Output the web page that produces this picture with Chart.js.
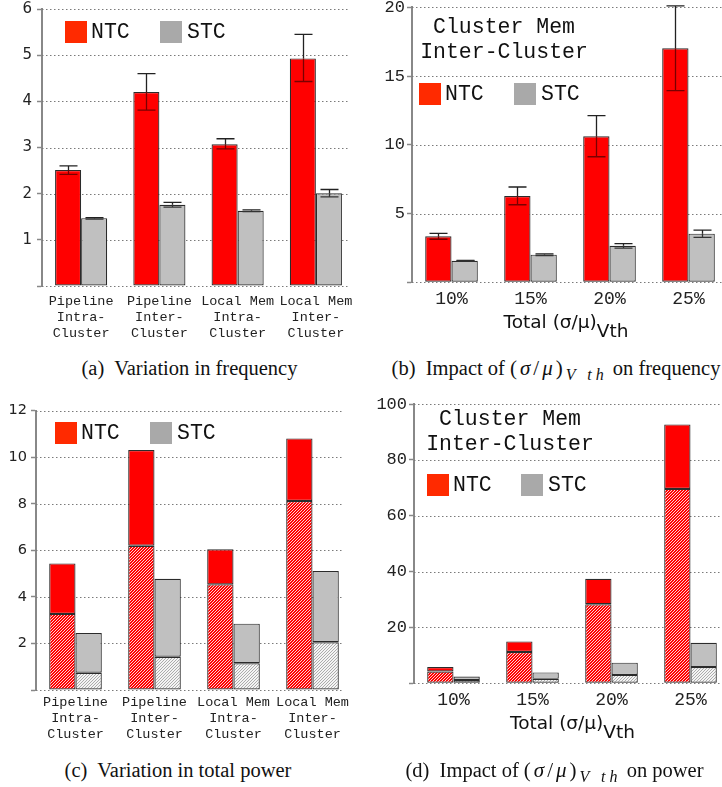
<!DOCTYPE html>
<html>
<head>
<meta charset="utf-8">
<script src="https://cdn.jsdelivr.net/npm/chart.js@4.4.1/dist/chart.umd.min.js"></script>
<style>
  html, body { margin: 0; padding: 0; width: 722px; height: 787px; overflow: hidden; background: #fff; }
  canvas { position: absolute; }
  .sq { position: absolute; width: 22px; height: 22px; }
  .lt { position: absolute; font-family: "Liberation Mono", "Courier New", monospace; font-size: 21.5px; line-height: 22px; color: #111; white-space: nowrap; }
  .ttl { position: absolute; width: 220px; text-align: center; font-family: "Liberation Mono", "Courier New", monospace; font-size: 21.5px; line-height: 25.6px; color: #111; white-space: nowrap; }
  .axt { position: absolute; transform: translateX(-50%); font-family: "DejaVu Sans", sans-serif; font-size: 18.5px; line-height: 20px; color: #111; white-space: nowrap; }
  .axt sub { font-size: 18.5px; vertical-align: -9px; line-height: 0; }
  .cap { position: absolute; transform: translateX(-50%); font-family: "Liberation Serif", "Times New Roman", serif; font-size: 20.5px; line-height: 24px; color: #111; white-space: nowrap; }
  .cap .m { letter-spacing: 3px; font-size: 21px; }
  .cap sub { font-size: 16px; letter-spacing: 4px; vertical-align: -5px; line-height: 0; }
</style>
</head>
<body>
<canvas id="freqDesign" width="361" height="350" style="left:0px;top:-5px"></canvas>
<canvas id="freqSigma" width="371" height="350" style="left:361px;top:-5px"></canvas>
<canvas id="powerDesign" width="361" height="355" style="left:0px;top:395px"></canvas>
<canvas id="powerSigma" width="371" height="360" style="left:361px;top:390px"></canvas>

<!-- legends -->
<div class="sq" style="left:65px;top:21px;background:#ff2a00"></div><div class="lt" style="left:91px;top:21px">NTC</div>
<div class="sq" style="left:160px;top:21px;background:#a9a9a9"></div><div class="lt" style="left:187px;top:21px">STC</div>

<div class="ttl" style="left:394px;top:14.9px">Cluster Mem<br>Inter-Cluster</div>
<div class="sq" style="left:419px;top:83px;background:#ff2a00"></div><div class="lt" style="left:445px;top:83px">NTC</div>
<div class="sq" style="left:514px;top:83px;background:#a9a9a9"></div><div class="lt" style="left:541px;top:83px">STC</div>

<div class="sq" style="left:55px;top:422px;background:#ff2a00"></div><div class="lt" style="left:81px;top:422px">NTC</div>
<div class="sq" style="left:150px;top:422px;background:#a9a9a9"></div><div class="lt" style="left:177px;top:422px">STC</div>

<div class="ttl" style="left:400px;top:406.5px">Cluster Mem<br>Inter-Cluster</div>
<div class="sq" style="left:427px;top:474px;background:#ff2a00"></div><div class="lt" style="left:453px;top:474px">NTC</div>
<div class="sq" style="left:521px;top:474px;background:#a9a9a9"></div><div class="lt" style="left:548px;top:474px">STC</div>

<!-- axis titles -->
<div class="axt" style="left:566px;top:311.7px">Total (σ/μ)<sub>Vth</sub></div>
<div class="axt" style="left:572.5px;top:713.3px">Total (σ/μ)<sub>Vth</sub></div>

<!-- captions -->
<div class="cap" style="left:189.5px;top:356px">(a)&nbsp; Variation in frequency</div>
<div class="cap" style="left:556px;top:356px">(b)&nbsp; Impact of <span class="m">(<i>σ</i>/<i>μ</i>)</span><sub><i>V th</i></sub> on frequency</div>
<div class="cap" style="left:178px;top:758px">(c)&nbsp; Variation in total power</div>
<div class="cap" style="left:554.5px;top:758px">(d)&nbsp; Impact of <span class="m">(<i>σ</i>/<i>μ</i>)</span><sub><i>V th</i></sub> on power</div>

<script>
// ---- categories ----
const designLabels = [
  ['Pipeline', 'Intra-', 'Cluster'],
  ['Pipeline', 'Inter-', 'Cluster'],
  ['Local Mem', 'Intra-', 'Cluster'],
  ['Local Mem', 'Inter-', 'Cluster']
];
const sigmaLabels = ['10%', '15%', '20%', '25%'];

// ---- frequency variation per design (mean, error range) ----
const freqNtc     = [2.51, 4.20, 3.07, 4.93];
const freqNtcLow  = [2.42, 3.81, 2.97, 4.43];
const freqNtcHigh = [2.60, 4.60, 3.19, 5.45];
const freqStc     = [1.47, 1.76, 1.63, 2.01];
const freqStcLow  = [1.45, 1.71, 1.61, 1.93];
const freqStcHigh = [1.48, 1.81, 1.65, 2.09];

// ---- frequency variation vs total sigma/mu of Vth ----
const sigFreqNtc     = [3.35, 6.28, 10.62, 17.02];
const sigFreqNtcLow  = [3.13, 5.64, 9.13, 13.94];
const sigFreqNtcHigh = [3.56, 6.93, 12.12, 20.10];
const sigFreqStc     = [1.57, 2.01, 2.66, 3.54];
const sigFreqStcLow  = [1.55, 1.95, 2.49, 3.27];
const sigFreqStcHigh = [1.59, 2.07, 2.81, 3.80];

// ---- total power per design: hatched base part and full height ----
const powerNtcBase  = [3.27, 6.20, 4.54, 8.12];
const powerNtcTotal = [5.44, 10.31, 6.05, 10.81];
const powerStcBase  = [0.74, 1.43, 1.15, 2.05];
const powerStcTotal = [2.45, 4.78, 2.85, 5.11];

// ---- total power vs total sigma/mu of Vth ----
const sigPowerNtcBase  = [4.2, 11.2, 28.3, 69.6];
const sigPowerNtcTotal = [5.8, 15.0, 37.4, 92.7];
const sigPowerStcBase  = [1.2, 1.6, 3.0, 5.8];
const sigPowerStcTotal = [2.4, 3.9, 7.4, 14.5];

const MONO = '"Liberation Mono", "Courier New", monospace';
const SANS = '"DejaVu Sans", sans-serif';
const RED = '#ff0000';
const GREY = '#c0c0c0';

// fine "/" hatch used for the lower part of the power bars
function hatch(ctx, base, stripe) {
  const c = document.createElement('canvas');
  c.width = 3; c.height = 3;
  const g = c.getContext('2d');
  g.fillStyle = base; g.fillRect(0, 0, 3, 3);
  g.fillStyle = stripe;
  for (let y = 0; y < 3; y++) for (let x = 0; x < 3; x++) if ((x + y) % 3 === 2) g.fillRect(x, y, 1, 1);
  return ctx.createPattern(c, 'repeat');
}

// dotted horizontal grid at every y tick, ending at a chosen x
const dottedGrid = {
  id: 'dottedGrid',
  beforeDatasetsDraw(chart, args, opts) {
    const { ctx, chartArea, scales: { y } } = chart;
    const right = opts.right != null ? opts.right : chart.width;
    ctx.save();
    ctx.strokeStyle = '#7a7a7a';
    ctx.lineWidth = 1;
    ctx.setLineDash([1.5, 2.5]);
    y.ticks.forEach(t => {
      const py = Math.round(y.getPixelForValue(t.value)) + 0.5;
      ctx.beginPath();
      ctx.moveTo(chartArea.left, py);
      ctx.lineTo(right, py);
      ctx.stroke();
    });
    ctx.restore();
  }
};

// min/max whiskers on top of bars
const errorBars = {
  id: 'errorBars',
  afterDatasetsDraw(chart, args, opts) {
    const { ctx, scales: { y } } = chart;
    (opts.sets || []).forEach(s => {
      const meta = chart.getDatasetMeta(s.dataset);
      meta.data.forEach((bar, i) => {
        const x = Math.round(bar.x) + 0.5;
        const top = bar.y;
        const hi = y.getPixelForValue(s.high[i]);
        const lo = y.getPixelForValue(s.low[i]);
        const hw = 9;
        ctx.save();
        ctx.lineWidth = 1.3;
        ctx.strokeStyle = '#222';
        ctx.beginPath();
        ctx.moveTo(x, hi); ctx.lineTo(x, top);
        ctx.moveTo(x - hw, hi); ctx.lineTo(x + hw, hi);
        ctx.stroke();
        ctx.strokeStyle = s.inner;
        ctx.beginPath();
        ctx.moveTo(x, top); ctx.lineTo(x, lo);
        ctx.moveTo(x - hw, lo); ctx.lineTo(x + hw, lo);
        ctx.stroke();
        ctx.restore();
      });
    });
  }
};

function barChart(id, o) {
  const ctx = document.getElementById(id).getContext('2d');
  return new Chart(ctx, {
    type: 'bar',
    data: { labels: o.labels, datasets: o.datasets(ctx) },
    options: {
      responsive: false,
      animation: false,
      devicePixelRatio: 1,
      layout: { padding: { top: o.top, right: o.right, left: 0, bottom: 0 } },
      datasets: {
        bar: { categoryPercentage: 0.666, barPercentage: 1, borderWidth: 1.2, borderColor: '#2b2b2b', borderSkipped: false }
      },
      plugins: {
        legend: { display: false },
        tooltip: { enabled: false },
        dottedGrid: { right: o.gridRight },
        errorBars: { sets: o.errors || [] }
      },
      scales: {
        x: {
          stacked: !!o.stacked,
          offset: true,
          grid: { display: false, drawTicks: false },
          border: { display: false },
          ticks: { font: o.xFont, color: '#222', padding: o.xPad, maxRotation: 0, autoSkip: false },
          afterFit: s => { s.height = o.xHeight; }
        },
        y: {
          stacked: !!o.stacked,
          min: 0,
          max: o.max,
          ticks: { stepSize: o.step, font: o.yFont, color: '#222', padding: o.yPad,
                   callback: v => (v === 0 ? '' : v) },
          grid: { drawOnChartArea: false, drawTicks: true, tickLength: 5, tickColor: '#888', tickWidth: 1.5 },
          border: { display: true, color: '#888', width: 2 },
          afterFit: s => { s.width = o.yWidth; }
        }
      }
    },
    plugins: [dottedGrid, errorBars]
  });
}

// (a) variation in frequency
barChart('freqDesign', {
  labels: designLabels,
  top: 12, right: 6, yWidth: 42, xHeight: 59, gridRight: 348,
  max: 6, step: 1, yPad: 5, xPad: 7,
  yFont: { family: SANS, size: 15 },
  xFont: { family: MONO, size: 13.5, lineHeight: 1.19 },
  datasets: () => [
    { label: 'NTC', data: freqNtc, backgroundColor: RED },
    { label: 'STC', data: freqStc, backgroundColor: GREY }
  ],
  errors: [
    { dataset: 0, low: freqNtcLow, high: freqNtcHigh, inner: '#7a0000' },
    { dataset: 1, low: freqStcLow, high: freqStcHigh, inner: '#333' }
  ]
});

// (b) frequency variation vs sigma/mu
barChart('freqSigma', {
  labels: sigmaLabels,
  top: 12.3, right: 4, yWidth: 51, xHeight: 62.7, gridRight: null,
  max: 20, step: 5, yPad: 2, xPad: 6,
  yFont: { family: MONO, size: 17 },
  xFont: { family: MONO, size: 18 },
  datasets: () => [
    { label: 'NTC', data: sigFreqNtc, backgroundColor: RED },
    { label: 'STC', data: sigFreqStc, backgroundColor: GREY }
  ],
  errors: [
    { dataset: 0, low: sigFreqNtcLow, high: sigFreqNtcHigh, inner: '#7a0000' },
    { dataset: 1, low: sigFreqStcLow, high: sigFreqStcHigh, inner: '#333' }
  ]
});

// (c) variation in total power (hatched base + solid remainder)
barChart('powerDesign', {
  labels: designLabels,
  stacked: true,
  top: 15.7, right: 9, yWidth: 36, xHeight: 60, gridRight: 343,
  max: 12, step: 2, yPad: 4, xPad: 4,
  yFont: { family: SANS, size: 14.5 },
  xFont: { family: MONO, size: 13.5, lineHeight: 1.19 },
  datasets: ctx => [
    { label: 'NTC base', stack: 'ntc', data: powerNtcBase, backgroundColor: hatch(ctx, RED, '#ffd0d0') },
    { label: 'NTC', stack: 'ntc', data: powerNtcTotal.map((t, i) => t - powerNtcBase[i]), backgroundColor: RED },
    { label: 'STC base', stack: 'stc', data: powerStcBase, backgroundColor: hatch(ctx, '#f4f4f4', '#acacac') },
    { label: 'STC', stack: 'stc', data: powerStcTotal.map((t, i) => t - powerStcBase[i]), backgroundColor: GREY }
  ]
});

// (d) total power vs sigma/mu
barChart('powerSigma', {
  labels: sigmaLabels,
  stacked: true,
  top: 14, right: 2, yWidth: 53, xHeight: 66.7, gridRight: null,
  max: 100, step: 20, yPad: 2, xPad: 6,
  yFont: { family: MONO, size: 17 },
  xFont: { family: MONO, size: 18 },
  datasets: ctx => [
    { label: 'NTC base', stack: 'ntc', data: sigPowerNtcBase, backgroundColor: hatch(ctx, RED, '#ffd0d0') },
    { label: 'NTC', stack: 'ntc', data: sigPowerNtcTotal.map((t, i) => t - sigPowerNtcBase[i]), backgroundColor: RED },
    { label: 'STC base', stack: 'stc', data: sigPowerStcBase, backgroundColor: hatch(ctx, '#f4f4f4', '#acacac') },
    { label: 'STC', stack: 'stc', data: sigPowerStcTotal.map((t, i) => t - sigPowerStcBase[i]), backgroundColor: GREY }
  ]
});
</script>
</body>
</html>
